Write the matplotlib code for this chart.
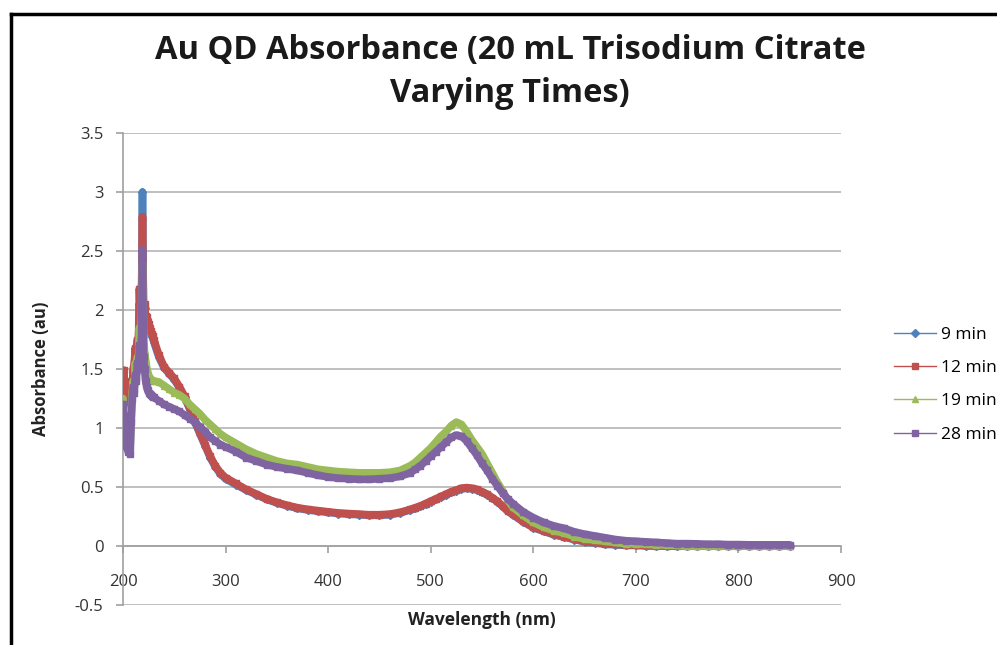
import matplotlib
matplotlib.use("Agg")
import matplotlib.pyplot as plt
from matplotlib.lines import Line2D

plt.rcParams['font.family'] = ['Open Sans', 'DejaVu Sans']

# ---------------- data ----------------
wavelength = [200, 201, 202, 203, 204, 205, 206, 207, 208, 209, 210, 211, 212, 213, 214, 215,
              216, 217, 218, 219, 220, 221, 222, 223, 224, 225, 226, 227, 228, 229, 230,
              235, 240, 245, 250, 255, 260, 265, 270, 275, 280, 285, 290, 295, 300,
              310, 320, 330, 340, 350, 360, 370, 380, 390, 400, 410, 420, 430, 440, 450, 460, 470,
              480, 485, 490, 495, 500, 505, 510, 515, 520, 525, 530, 535, 540, 545, 550, 555, 560,
              565, 570, 575, 580,
              590, 600, 610, 620, 630, 640, 650, 660, 670, 680, 690, 700, 710, 720, 730, 740, 750,
              760, 770, 780, 790, 800, 810, 820, 830, 840, 850]

min9 = [1.25, 1.30, 1.00, 0.98, 1.20, 1.05, 1.25, 1.12, 1.38, 1.30, 1.48, 1.50, 1.65, 1.58, 1.72, 1.68,
        2.05, 1.95, 2.00, 3.00, 1.98, 2.02, 1.93, 1.92, 1.88, 1.86, 1.82, 1.80, 1.78, 1.76, 1.73,
        1.60, 1.51, 1.46, 1.41, 1.34, 1.26, 1.16, 1.05, 0.95, 0.85, 0.75, 0.67, 0.61, 0.57,
        0.52, 0.475, 0.435, 0.395, 0.365, 0.34, 0.32, 0.305, 0.295, 0.285, 0.275, 0.27, 0.265, 0.26, 0.26, 0.265, 0.28,
        0.305, 0.32, 0.335, 0.355, 0.375, 0.395, 0.415, 0.435, 0.455, 0.47, 0.485, 0.49, 0.485, 0.475, 0.455, 0.435, 0.405,
        0.375, 0.335, 0.295, 0.265,
        0.205, 0.155, 0.125, 0.095, 0.075, 0.055, 0.035, 0.025, 0.015, 0.01, 0.005, 0.005, 0.0, 0.0, 0.0, 0.0, 0.0,
        0.0, 0.0, 0.0, 0.0, 0.0, 0.0, 0.0, 0.0, 0.0, 0.0]

min12 = [1.20, 1.49, 1.05, 0.95, 1.25, 1.10, 1.30, 1.15, 1.40, 1.35, 1.50, 1.55, 1.68, 1.60, 1.75, 1.70,
         2.18, 1.90, 2.05, 2.79, 2.00, 2.05, 1.95, 1.94, 1.90, 1.88, 1.85, 1.82, 1.80, 1.78, 1.75,
         1.62, 1.52, 1.47, 1.42, 1.35, 1.27, 1.17, 1.06, 0.96, 0.86, 0.76, 0.68, 0.62, 0.58,
         0.53, 0.48, 0.44, 0.40, 0.37, 0.345, 0.325, 0.31, 0.30, 0.29, 0.28, 0.275, 0.27, 0.265, 0.265, 0.27, 0.285,
         0.31, 0.325, 0.34, 0.36, 0.38, 0.40, 0.42, 0.44, 0.46, 0.475, 0.49, 0.495, 0.49, 0.48, 0.46, 0.44, 0.41,
         0.38, 0.34, 0.30, 0.27,
         0.21, 0.16, 0.13, 0.10, 0.08, 0.06, 0.04, 0.03, 0.02, 0.015, 0.01, 0.01, 0.005, 0.0, 0.0, 0.0, 0.0,
         0.0, 0.0, 0.0, 0.0, 0.0, 0.0, 0.0, 0.0, 0.0, 0.0]

min19 = [1.25, 0.90, 1.05, 0.95, 1.15, 0.88, 1.00, 0.85, 1.10, 1.30, 1.40, 1.35, 1.55, 1.45, 1.60, 1.55,
         1.85, 1.70, 1.95, 2.40, 1.80, 1.65, 1.58, 1.52, 1.48, 1.45, 1.43, 1.42, 1.41, 1.40, 1.40,
         1.39, 1.36, 1.33, 1.30, 1.28, 1.25, 1.20, 1.16, 1.12, 1.07, 1.03, 0.99, 0.95, 0.92,
         0.87, 0.82, 0.78, 0.75, 0.72, 0.70, 0.69, 0.67, 0.65, 0.64, 0.63, 0.625, 0.62, 0.62, 0.62, 0.625, 0.64,
         0.68, 0.71, 0.75, 0.79, 0.83, 0.88, 0.93, 0.97, 1.02, 1.05, 1.03, 0.97, 0.90, 0.84, 0.78, 0.70, 0.62,
         0.54, 0.47, 0.39, 0.33,
         0.26, 0.20, 0.16, 0.13, 0.11, 0.08, 0.06, 0.05, 0.04, 0.03, 0.02, 0.02, 0.015, 0.01, 0.01, 0.005, 0.0,
         0.0, 0.0, 0.0, 0.0, 0.0, 0.0, 0.0, 0.0, 0.0, 0.0]

min28 = [1.20, 0.85, 1.00, 0.90, 1.10, 0.80, 0.95, 0.78, 1.05, 1.25, 1.35, 1.30, 1.45, 1.40, 1.55, 1.50,
         1.70, 1.60, 1.75, 2.51, 1.60, 1.50, 1.40, 1.35, 1.32, 1.30, 1.29, 1.28, 1.27, 1.26, 1.26,
         1.23, 1.20, 1.18, 1.16, 1.14, 1.11, 1.08, 1.05, 1.01, 0.97, 0.92, 0.89, 0.86, 0.84,
         0.80, 0.75, 0.72, 0.69, 0.67, 0.655, 0.64, 0.62, 0.60, 0.585, 0.575, 0.57, 0.565, 0.565, 0.57, 0.575, 0.59,
         0.62, 0.65, 0.68, 0.72, 0.76, 0.80, 0.84, 0.88, 0.92, 0.94, 0.93, 0.89, 0.83, 0.77, 0.70, 0.64, 0.57,
         0.51, 0.45, 0.40, 0.36,
         0.29, 0.24, 0.20, 0.17, 0.15, 0.12, 0.10, 0.085, 0.07, 0.055, 0.045, 0.04, 0.035, 0.03, 0.025, 0.02, 0.02,
         0.018, 0.015, 0.015, 0.012, 0.012, 0.01, 0.01, 0.01, 0.01, 0.01]

series_names = ['9 min', '12 min', '19 min', '28 min']
series_values = [min9, min12, min19, min28]
series_colors = ['#4F81BD', '#C0504D', '#9BBB59', '#8064A2']
series_markers = ['D', 's', '^', 's']

x_ticks = [200, 300, 400, 500, 600, 700, 800, 900]
y_ticks = [-0.5, 0, 0.5, 1, 1.5, 2, 2.5, 3, 3.5]
y_tick_labels = ['-0.5', '0', '0.5', '1', '1.5', '2', '2.5', '3', '3.5']

# ---------------- figure ----------------
W, H = 997, 645
fig = plt.figure(figsize=(W / 100, H / 100), dpi=100)
ax = fig.add_axes([123 / W, 1 - 605 / H, (841 - 123) / W, (605 - 133) / H])

for name, vals, col, mk in zip(series_names, series_values, series_colors, series_markers):
    ax.plot(wavelength, vals, color=col, lw=5.5, marker=mk, ms=4.5,
            mec=col, mfc=col, solid_joinstyle='round', solid_capstyle='round', zorder=3)

ax.set_xlim(200, 900)
ax.set_ylim(-0.5, 3.5)
ax.set_xticks(x_ticks)
ax.set_yticks(y_ticks)
ax.set_yticklabels(y_tick_labels)
ax.grid(axis='y', color='#b4b4b4', lw=1.2)
ax.set_axisbelow(True)

for s in ['top', 'right']:
    ax.spines[s].set_visible(False)
ax.spines['left'].set_color('#a0a0a0')
ax.spines['left'].set_linewidth(1.2)
ax.spines['bottom'].set_position(('data', 0))
ax.spines['bottom'].set_color('#a0a0a0')
ax.spines['bottom'].set_linewidth(1.2)

ax.tick_params(axis='y', length=5, width=1.2, color='#a0a0a0', labelsize=12, pad=9,
               labelcolor='#333333')
ax.tick_params(axis='x', length=5, width=1.2, color='#a0a0a0', labelsize=12, pad=15,
               labelcolor='#333333', direction='out')

fig.text(482 / W, 1 - 620 / H, 'Wavelength (nm)', ha='center', va='center',
         fontsize=12.5, fontweight='bold', color='#222222')
fig.text(41 / W, 1 - 369 / H, 'Absorbance (au)', ha='center', va='center',
         rotation=90, fontsize=12, fontweight='bold', color='#222222')

fig.text(510 / W, 1 - 51 / H, 'Au QD Absorbance (20 mL Trisodium Citrate',
         ha='center', va='center', fontsize=23.5, fontweight='bold', color='#1a1a1a')
fig.text(510 / W, 1 - 93 / H, 'Varying Times)',
         ha='center', va='center', fontsize=23.5, fontweight='bold', color='#1a1a1a')

handles = [Line2D([0], [0], color=c, lw=1.0, marker=m, ms=4, mfc=c, mec=c)
           for c, m in zip(series_colors, series_markers)]
fig.legend(handles, series_names, loc='upper left', bbox_to_anchor=(887 / W, 1 - 320 / H),
           frameon=False, fontsize=12.5, handlelength=2.4, labelspacing=0.98,
           handletextpad=0.3, borderaxespad=0)

# outer black border (left and top edges visible)
fig.add_artist(Line2D([11 / W, 11 / W], [0, 1 - 14 / H], transform=fig.transFigure,
                      color='black', lw=2.5))
fig.add_artist(Line2D([11 / W, 1.0], [1 - 14 / H, 1 - 14 / H], transform=fig.transFigure,
                      color='black', lw=2.5))

fig.savefig('out.png', dpi=100)
